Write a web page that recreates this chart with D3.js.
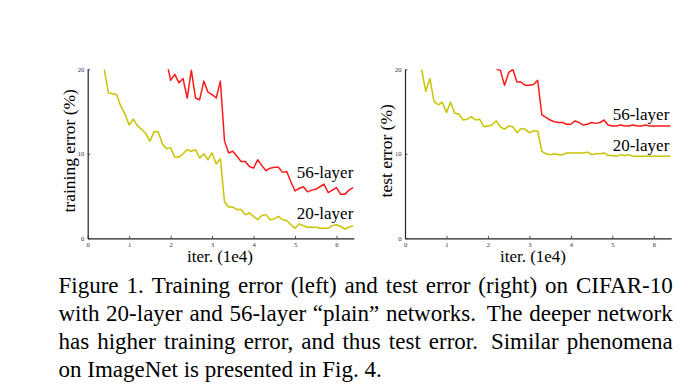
<!DOCTYPE html>
<html>
<head>
<meta charset="utf-8">
<script src="https://cdn.jsdelivr.net/npm/d3@7"></script>
<style>
  html, body { margin: 0; padding: 0; background: #fff; }
  svg { display: block; }
  text { font-family: "Liberation Serif", "Times New Roman", serif; }
</style>
</head>
<body>
<svg id="chart" width="698" height="385"></svg>
<script>
// ---- data (iteration in 1e4, error in %) ----
const trainIter20 = [0.4,0.5,0.6,0.7,0.8,0.9,1.0,1.1,1.2,1.3,1.4,1.5,1.6,1.7,1.8,1.9,2.0,2.1,2.2,2.3,2.4,2.5,2.6,2.7,2.8,2.9,3.0,3.1,3.2,3.3,3.4,3.5,3.6,3.7,3.8,3.9,4.0,4.1,4.2,4.3,4.4,4.5,4.6,4.7,4.8,4.9,5.0,5.1,5.2,5.3,5.4,5.5,5.6,5.7,5.8,5.9,6.0,6.1,6.2,6.3,6.4];
const train20 = [20.0,17.2,17.1,17.0,15.6,14.7,13.4,14.1,13.3,12.9,12.4,11.5,12.6,12.6,11.2,10.6,10.7,9.6,9.6,10.0,10.5,10.3,10.5,9.5,10.0,9.3,10.1,8.8,9.4,4.3,3.7,3.7,3.4,3.4,2.8,3.0,2.6,2.2,2.7,2.8,2.2,2.3,2.6,2.2,2.1,1.6,1.2,1.7,1.5,1.3,1.3,1.3,1.2,1.2,1.2,1.5,1.6,1.4,1.1,1.3,1.5];
const trainIter56 = [1.9,2.0,2.1,2.2,2.3,2.4,2.5,2.6,2.7,2.8,2.9,3.0,3.1,3.2,3.3,3.4,3.5,3.6,3.7,3.8,3.9,4.0,4.1,4.2,4.3,4.4,4.5,4.6,4.7,4.8,4.9,5.0,5.1,5.2,5.3,5.4,5.5,5.6,5.7,5.8,5.9,6.0,6.1,6.2,6.3,6.4];
const train56 = [21.0,18.7,19.4,18.4,18.9,16.6,19.9,16.6,16.4,18.6,17.3,17.0,16.6,18.6,11.5,10.1,10.3,9.7,9.1,9.1,8.5,8.3,9.3,8.6,8.0,8.3,8.4,8.4,7.8,7.9,6.7,5.6,5.9,6.1,5.5,5.7,5.8,6.1,6.4,5.4,5.7,6.0,5.2,5.2,5.7,6.0];
const testIter20 = [0.4,0.5,0.6,0.7,0.8,0.9,1.0,1.1,1.2,1.3,1.4,1.5,1.6,1.7,1.8,1.9,2.0,2.1,2.2,2.3,2.4,2.5,2.6,2.7,2.8,2.9,3.0,3.1,3.2,3.3,3.4,3.5,3.6,3.7,3.8,3.9,4.0,4.1,4.2,4.3,4.4,4.5,4.6,4.7,4.8,4.9,5.0,5.1,5.2,5.3,5.4,5.5,5.6,5.7,5.8,5.9,6.0,6.1,6.2,6.3,6.4];
const test20 = [20.0,17.4,18.9,16.2,15.8,16.1,14.9,16.1,14.8,14.7,14.0,14.1,14.4,14.0,14.1,13.2,13.3,13.4,13.9,13.2,12.9,13.3,13.2,12.5,13.0,12.9,12.5,12.7,12.7,10.3,10.0,9.9,10.0,9.9,9.9,10.1,10.1,10.1,10.1,10.1,10.2,9.9,10.0,10.0,10.1,9.8,9.8,9.7,9.9,9.8,9.9,9.7,9.7,9.7,9.7,9.7,9.7,9.7,9.7,9.7,9.7];
const testIter56 = [2.2,2.3,2.4,2.5,2.6,2.7,2.8,2.9,3.0,3.1,3.2,3.3,3.4,3.5,3.6,3.7,3.8,3.9,4.0,4.1,4.2,4.3,4.4,4.5,4.6,4.7,4.8,4.9,5.0,5.1,5.2,5.3,5.4,5.5,5.6,5.7,5.8,5.9,6.0,6.1,6.2,6.3,6.4];
const test56 = [20.0,19.9,18.1,19.6,20.0,18.5,18.5,18.1,18.1,18.2,18.7,14.6,14.3,14.0,13.8,13.7,13.7,13.5,13.5,13.9,13.7,13.4,13.5,13.7,13.6,13.7,14.0,13.4,13.3,13.3,13.4,13.3,13.3,13.4,13.3,13.3,13.4,13.3,13.3,13.3,13.3,13.3,13.3];
const xTicks = [0,1,2,3,4,5,6];
const yTicks = [0,10,20];
const seriesNames = ["56-layer", "20-layer"];
const yLabels = ["training error (%)", "test error (%)"];
const xLabel = "iter. (1e4)";
const captionLines = [
  "Figure 1. Training error (left) and test error (right) on CIFAR-10",
  "with 20-layer and 56-layer “plain” networks. The deeper network",
  "has higher training error, and thus test error. Similar phenomena",
  "on ImageNet is presented in Fig. 4."
];

// ---- drawing ----
const svg = d3.select("#chart");
const RED = "#ff1a1a", YEL = "#c8c400";
const y = d3.scaleLinear().domain([0, 20]).range([238.3, 69.3]);

const panels = [
  { x0: 87.7, x1: 353.9, s20: [trainIter20, train20], s56: [trainIter56, train56],
    ylab: yLabels[0], ylabX: 74.8, xlabX: 220, lab56: [296.7, 178.3], lab20: [296.7, 219] },
  { x0: 405, x1: 671.2, s20: [testIter20, test20], s56: [testIter56, test56],
    ylab: yLabels[1], ylabX: 391.5, xlabX: 533, lab56: [612.7, 120], lab20: [612.7, 150.7] }
];

panels.forEach((p, i) => {
  const x = d3.scaleLinear().domain([0, 6.42]).range([p.x0, p.x1]);
  const g = svg.append("g");
  const clipId = "clip" + i;
  svg.append("clipPath").attr("id", clipId).append("rect")
    .attr("x", p.x0).attr("y", y(20)).attr("width", p.x1 - p.x0).attr("height", y(0) - y(20));

  const line = d3.line().x(d => x(d[0])).y(d => y(d[1]));
  const mk = s => s[0].map((t, k) => [t, s[1][k]]);
  g.append("path").datum(mk(p.s20)).attr("d", line).attr("clip-path", `url(#${clipId})`)
    .attr("fill", "none").attr("stroke", YEL).attr("stroke-width", 1.5).attr("stroke-linejoin", "round");
  g.append("path").datum(mk(p.s56)).attr("d", line).attr("clip-path", `url(#${clipId})`)
    .attr("fill", "none").attr("stroke", RED).attr("stroke-width", 1.5).attr("stroke-linejoin", "round");

  const xa = g.append("g").attr("transform", `translate(0,${y(0)})`)
    .call(d3.axisBottom(x).tickValues(xTicks).tickFormat(d3.format("d"))
      .tickSizeInner(-2.5).tickSizeOuter(0).tickPadding(3.6));
  const ya = g.append("g").attr("transform", `translate(${p.x0},0)`)
    .call(d3.axisLeft(y).tickValues(yTicks).tickFormat(d3.format("d"))
      .tickSizeInner(-2.5).tickSizeOuter(0).tickPadding(3.5));
  [xa, ya].forEach(a => {
    a.select(".domain").attr("stroke", "#222").attr("stroke-width", 1.2);
    a.selectAll(".tick line").attr("stroke", "#222").attr("stroke-width", 0.8);
    a.selectAll(".tick text").attr("fill", "#2b2b45")
      .style("font-family", '"Liberation Serif", serif').style("font-size", "6.5px");
  });

  g.append("text").attr("transform", `translate(${p.ylabX},150.8) rotate(-90)`)
    .attr("text-anchor", "middle").style("font-size", "17.5px").attr("fill", "#000").text(p.ylab);
  g.append("text").attr("x", p.xlabX).attr("y", 262).attr("text-anchor", "middle")
    .style("font-size", "17px").attr("fill", "#000").text(xLabel);
  g.append("text").attr("x", p.lab56[0]).attr("y", p.lab56[1])
    .style("font-size", "17px").attr("fill", "#000").text(seriesNames[0]);
  g.append("text").attr("x", p.lab20[0]).attr("y", p.lab20[1])
    .style("font-size", "17px").attr("fill", "#000").text(seriesNames[1]);
});

// ---- caption (justified) ----
const capLeft = 58.5, capRight = 672.7, capSize = 23;
const baselines = [292.5, 320.7, 348.9, 377.1];
captionLines.forEach((ln, li) => {
  const words = ln.split(" ");
  const nodes = words.map(w => svg.append("text").attr("y", baselines[li])
    .style("font-size", capSize + "px").attr("fill", "#000").text(w));
  const widths = nodes.map(n => n.node().getComputedTextLength());
  const total = d3.sum(widths);
  const justify = li < captionLines.length - 1;
  const weights = words.slice(0, -1).map(w => (justify && /[a-z]\.$/.test(w) ? 1.6 : 1));
  const unit = justify ? (capRight - capLeft - total) / d3.sum(weights) : capSize * 0.25;
  let xpos = capLeft;
  nodes.forEach((n, k) => {
    n.attr("x", xpos);
    xpos += widths[k] + (k < weights.length ? weights[k] * unit : 0);
  });
});
</script>
</body>
</html>
